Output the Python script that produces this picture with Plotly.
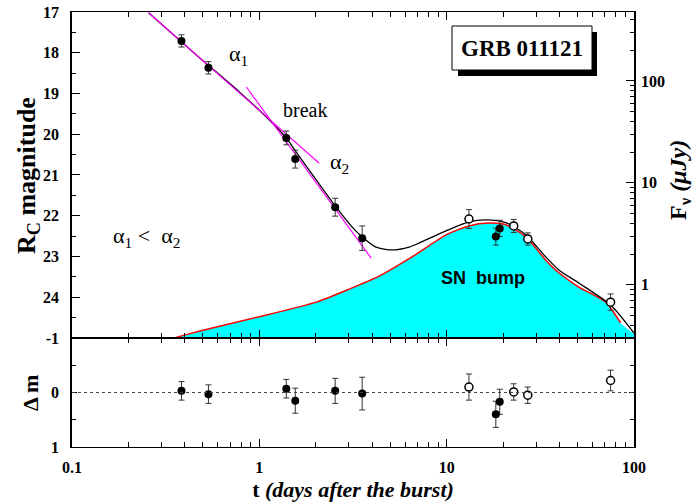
import plotly.graph_objects as go

# ---------------- data ----------------
# afterglow photometry, filled = ground based, open = other
t_filled = [0.384, 0.535, 1.393, 1.555, 2.54, 3.54, 18.3, 19.2]
m_filled = [17.71, 18.37, 20.09, 20.61, 21.79, 22.55, 22.51, 22.31]
e_filled = [0.15, 0.15, 0.17, 0.22, 0.22, 0.30, 0.21, 0.20]

t_open = [13.15, 22.8, 27.1, 75.0]
m_open = [22.08, 22.25, 22.57, 24.12]
e_open = [0.23, 0.16, 0.15, 0.20]

# residuals
dm_filled = [-0.03, 0.03, -0.07, 0.15, -0.03, 0.02, 0.40, 0.17]
dme_filled = [0.17, 0.17, 0.17, 0.23, 0.23, 0.30, 0.24, 0.23]
dm_open = [-0.10, -0.01, 0.05, -0.22]
dme_open = [0.24, 0.15, 0.15, 0.19]

# total model (black curve)
model_t = [0.2562, 0.479, 0.782, 1.131, 1.393, 1.574, 2.013, 2.572, 3.13, 3.54, 4.20,
           5.11, 6.30, 7.12, 9.92, 13.15, 16.2, 20.7, 26.5, 33.8, 39.7, 50.7, 75.0, 100.0]
model_m = [17.02, 18.12, 18.96, 19.65, 20.09, 20.44, 21.12, 21.79, 22.28, 22.52, 22.77,
           22.84, 22.77, 22.67, 22.37, 22.15, 22.10, 22.17, 22.47, 23.01, 23.33, 23.65, 24.19, 24.88]

# supernova component (red curve / cyan area)
sn_t = [0.3525, 0.3985, 0.590, 1.0, 2.013, 3.017, 4.36, 6.53, 9.92, 13.15, 16.8, 20.7,
        26.5, 33.8, 39.7, 50.7, 70.6, 84.8, 100.0]
sn_m = [25.0, 24.93, 24.73, 24.48, 24.12, 23.80, 23.48, 23.01, 22.47, 22.25, 22.18, 22.22,
        22.52, 23.09, 23.40, 23.75, 24.12, 24.63, 24.90]

# power-law segments (magenta)
a1_t = [0.2562, 2.088]
a1_m = [17.02, 20.71]
a2_t = [0.8525, 3.953]
a2_m = [18.84, 23.04]

mag_range = [25, 17]
dm_range = [1, -1]
x_ticks = [0.1, 1, 10, 100]
x_ticktext = ["0.1", "1", "10", "100"]
mag_ticks = [17, 18, 19, 20, 21, 22, 23, 24]
flux_ticks = [1, 10, 100]
flux_zero_mag = 23.693   # magnitude of 1 microJy

# ---------------- figure ----------------
SERIF = "Liberation Serif"
fig = go.Figure()

# baseline for filled area
fig.add_trace(go.Scatter(x=[sn_t[0], sn_t[-1]], y=[mag_range[0], mag_range[0]],
                         mode="lines", line=dict(width=0, color="#00FFFF"),
                         hoverinfo="skip", showlegend=False, xaxis="x", yaxis="y"))
fig.add_trace(go.Scatter(x=sn_t, y=sn_m, mode="lines", fill="tonexty",
                         fillcolor="#00FFFF", line=dict(width=0, color="#00FFFF", shape="spline", smoothing=0.6),
                         hoverinfo="skip", showlegend=False, xaxis="x", yaxis="y"))
fig.add_trace(go.Scatter(x=sn_t[:-1], y=sn_m[:-1], mode="lines",
                         line=dict(width=1.5, color="#FF0000", shape="spline", smoothing=0.6),
                         showlegend=False, xaxis="x", yaxis="y"))
fig.add_trace(go.Scatter(x=model_t, y=model_m, mode="lines",
                         line=dict(width=1.3, color="black", shape="spline", smoothing=0.7),
                         showlegend=False, xaxis="x", yaxis="y"))
for tt, mm in ((a1_t, a1_m), (a2_t, a2_m)):
    fig.add_trace(go.Scatter(x=tt, y=mm, mode="lines",
                             line=dict(width=1.2, color="#FF00FF"),
                             showlegend=False, xaxis="x", yaxis="y"))

err_style = dict(type="data", color="#333333", thickness=1, width=3)

fig.add_trace(go.Scatter(x=t_filled, y=m_filled, mode="markers",
                         marker=dict(size=8, color="black"),
                         error_y=dict(array=e_filled, **err_style),
                         showlegend=False, xaxis="x", yaxis="y"))
fig.add_trace(go.Scatter(x=t_open, y=m_open, mode="markers",
                         marker=dict(size=8, color="white", line=dict(width=1.5, color="black")),
                         error_y=dict(array=e_open, **err_style),
                         showlegend=False, xaxis="x", yaxis="y"))

fig.add_trace(go.Scatter(x=t_filled, y=dm_filled, mode="markers",
                         marker=dict(size=8, color="black"),
                         error_y=dict(array=dme_filled, **err_style),
                         showlegend=False, xaxis="x2", yaxis="y2"))
fig.add_trace(go.Scatter(x=t_open, y=dm_open, mode="markers",
                         marker=dict(size=8, color="white", line=dict(width=1.5, color="black")),
                         error_y=dict(array=dme_open, **err_style),
                         showlegend=False, xaxis="x2", yaxis="y2"))

# empty trace to register the flux axis
fig.add_trace(go.Scatter(x=[], y=[], xaxis="x", yaxis="y3", showlegend=False))

tickfont = dict(family=SERIF, size=16, color="black", weight="bold")
x_minor = [k * 10 ** e for e in (-1, 0, 1) for k in range(2, 10)]
mag_minor = [m + 0.5 for m in range(17, 25)]
flux_minor = [k * 10 ** e for e in (-1, 0, 1, 2) for k in range(2, 10)]

xcommon = dict(type="log", range=[-1, 2], tickvals=x_ticks, ticktext=x_ticktext,
               ticks="inside", ticklen=8, tickwidth=1.2, tickcolor="black",
               showline=True, linecolor="black", linewidth=1.2, mirror="ticks",
               showgrid=False, zeroline=False, automargin=False,
               minor=dict(tickmode="array", tickvals=x_minor, ticks="inside", ticklen=5,
                          tickwidth=1, tickcolor="black", showgrid=False))

fig.update_layout(
    width=697, height=503,
    margin=dict(l=72, r=63, t=12, b=56),
    paper_bgcolor="white", plot_bgcolor="white",
    showlegend=False,
    xaxis=dict(domain=[0, 1], anchor="y", showticklabels=False, **xcommon),
    xaxis2=dict(domain=[0, 1], anchor="y2", showticklabels=True, tickfont=tickfont,
                ticklabelstandoff=6,
                title=dict(text="t <i>(days after the burst)</i>",
                           font=dict(family=SERIF, size=22, color="black", weight="bold"),
                           standoff=6),
                **xcommon),
    yaxis=dict(domain=[0.2506, 1], anchor="x", range=mag_range, tickvals=mag_ticks,
               ticks="inside", ticklen=8, tickwidth=1.2, tickcolor="black",
               tickfont=tickfont, ticklabelstandoff=8, automargin=False,
               showline=True, linecolor="black", linewidth=1.5, mirror=True,
               showgrid=False, zeroline=False,
               minor=dict(tickmode="array", tickvals=mag_minor, ticks="inside", ticklen=4,
                          tickwidth=1, tickcolor="black", showgrid=False)),
    yaxis2=dict(domain=[0, 0.2506], anchor="x2", range=dm_range, tickvals=[-1, 0, 1],
                ticktext=["-1", "0", "1"],
                ticks="inside", ticklen=5, tickwidth=1.2, tickcolor="black",
                tickfont=tickfont, ticklabelstandoff=8, automargin=False,
                showline=True, linecolor="black", linewidth=1.5, mirror="ticks",
                showgrid=False, zeroline=False,
                minor=dict(tickmode="array", tickvals=[-0.5, 0.5], ticks="inside", ticklen=4,
                           tickwidth=1, tickcolor="black", showgrid=False)),
    yaxis3=dict(overlaying="y", anchor="x", side="right", type="log",
                range=[(flux_zero_mag - mag_range[0]) / 2.5, (flux_zero_mag - mag_range[1]) / 2.5],
                tickvals=flux_ticks, ticktext=["1", "10", "100"],
                ticks="inside", ticklen=8, tickwidth=1.2, tickcolor="black",
                tickfont=tickfont, ticklabelstandoff=6, automargin=False,
                showline=False, showgrid=False, zeroline=False,
                minor=dict(tickmode="array", tickvals=flux_minor, ticks="inside", ticklen=4,
                           tickwidth=1, tickcolor="black", showgrid=False)),
)

def px(xp):
    return (xp - 72) / 562

def py(yp):
    return (447 - yp) / 435

shapes = [
    dict(type="line", xref="x2 domain", yref="y2", x0=0, x1=1, y0=0, y1=0,
         line=dict(color="#444444", width=1, dash="dot")),
    dict(type="rect", xref="paper", yref="paper", x0=px(458), x1=px(597), y0=py(76), y1=py(32),
         fillcolor="black", line=dict(width=0)),
    dict(type="rect", xref="paper", yref="paper", x0=px(452), x1=px(592), y0=py(70), y1=py(26),
         fillcolor="white", line=dict(width=1, color="black")),
]
fig.update_layout(shapes=shapes)

def ann(text, xp, yp, size, bold=False, family=SERIF, angle=0):
    return dict(text=text, x=px(xp), y=py(yp), xref="paper", yref="paper",
                xanchor="center", yanchor="middle", showarrow=False, textangle=angle,
                font=dict(family=family, size=size, color="black",
                          weight="bold" if bold else "normal"))

fig.update_layout(annotations=[
    ann("GRB 011121", 522, 48, 23, bold=True),
    ann("α<sub>1</sub>", 238, 55, 22),
    ann("break", 305, 110, 20),
    ann("α<sub>2</sub>", 339, 163, 22),
    ann("α<sub>1</sub> <  α<sub>2</sub>", 146, 237, 22),
    ann("SN  bump", 483, 278, 18, bold=True, family="Liberation Sans"),
    ann("R<sub>C</sub> magnitude", 28, 176, 26, bold=True, angle=-90),
    ann("Δ m", 30, 393, 22, bold=True, angle=-90),
    ann("F<sub>ν</sub> <i>(μJy)</i>", 680, 180, 24, bold=True, angle=-90),
])

fig.write_html("out.html")
